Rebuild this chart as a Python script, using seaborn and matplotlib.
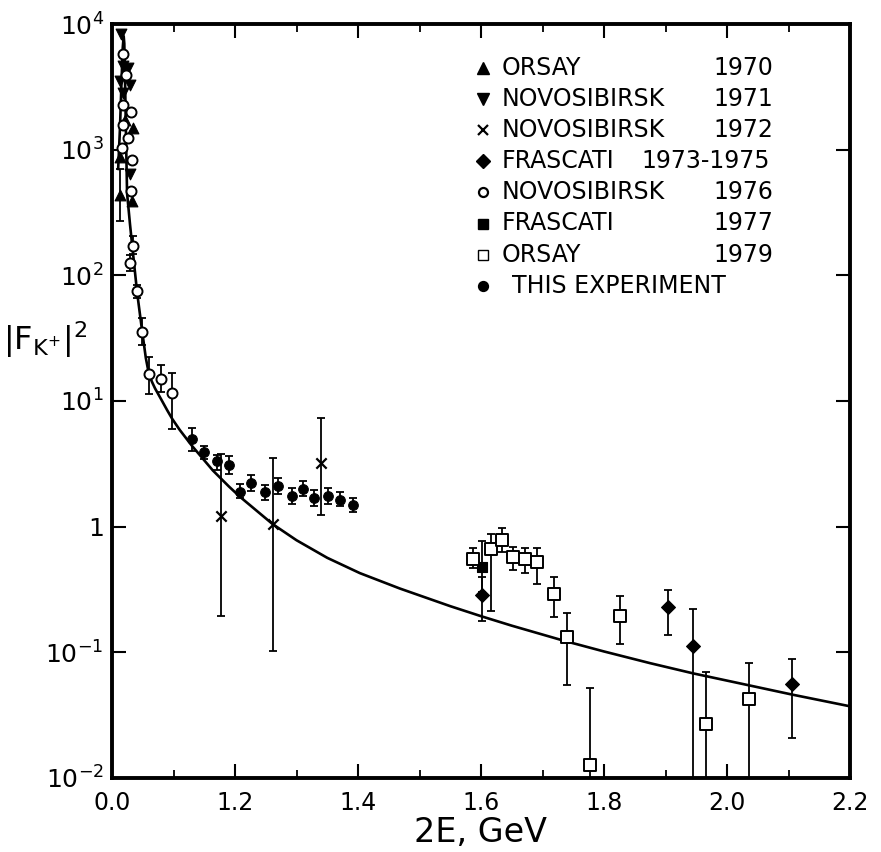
import numpy as np
import matplotlib
matplotlib.use("Agg")
import matplotlib.pyplot as plt
import seaborn as sns

# ---------------- data ----------------
# fitted curve
fit_x = [1.0100, 1.0130, 1.0155, 1.0175, 1.0190, 1.0200, 1.0215, 1.0230, 1.0245,
         1.0293, 1.0325, 1.0366, 1.0410, 1.0490, 1.0550, 1.0600, 1.0650, 1.0700,
         1.0800, 1.0900, 1.0980, 1.1100, 1.1300, 1.1640, 1.1900, 1.2080, 1.2610,
         1.3000, 1.3500, 1.4030, 1.4680, 1.5500, 1.6000, 1.6500, 1.7340, 1.8000,
         1.8750, 1.9450, 2.0360, 2.1060, 2.2000]
fit_y = [700, 1500, 3500, 6500, 8000, 7000, 3000, 1100, 450,
         254, 179, 115, 72, 36, 22, 16.4, 14.2, 12.6,
         10.3, 8.4, 7.2, 5.9, 4.4, 2.8, 2.09, 1.73, 1.05,
         0.78, 0.565, 0.427, 0.322, 0.233, 0.194, 0.163, 0.124, 0.1016,
         0.082, 0.068, 0.0546, 0.0461, 0.0372]

# ORSAY 1970 (up triangles)
ors70_x = [1.0207, 1.0341, 1.0125, 1.0125, 1.0325]
ors70_y = [1730, 1490, 871, 433, 392]
ors70_lo = [np.nan, np.nan, np.nan, 273, np.nan]
ors70_hi = [np.nan, np.nan, np.nan, 708, np.nan]

# NOVOSIBIRSK 1971 (down triangles)
nov71_x = [1.0151, 1.0179, 1.0260, 1.0125, 1.0288, 1.0179, 1.0288]
nov71_y = [8280, 4650, 4480, 3510, 3290, 2830, 641]

# NOVOSIBIRSK 1972 (crosses)
nov72_x = [1.177, 1.261, 1.340]
nov72_y = [1.21, 1.05, 3.23]
nov72_lo = [0.194, 0.103, 1.24]
nov72_hi = [3.77, 3.54, 7.31]

# FRASCATI 1973-1975 (diamonds)
fra73_x = [1.601, 1.9046, 1.945, 2.106]
fra73_y = [0.284, 0.229, 0.112, 0.0557]
fra73_lo = [0.179, 0.137, 0.001, 0.0208]
fra73_hi = [0.40, 0.311, 0.222, 0.088]

# NOVOSIBIRSK 1976 (open circles)
nov76_x = [1.0179, 1.0233, 1.0179, 1.0304, 1.0179, 1.0260, 1.0163, 1.0325, 1.0314,
           1.0341, 1.0288, 1.0400, 1.0493, 1.0602, 1.0797, 1.0980]
nov76_y = [5730, 3960, 2280, 2010, 1570, 1230, 1030, 820, 471,
           172, 126, 74.5, 35.6, 16.4, 14.9, 11.5]
nov76_lo = [np.nan] * 9 + [148, 108, 66, 27.8, 11.4, 11.7, 5.97]
nov76_hi = [np.nan] * 9 + [206, 145, 84, 45.5, 22.4, 19.2, 16.7]

# FRASCATI 1977 (filled squares)
fra77_x = [1.601]
fra77_y = [0.48]
fra77_lo = [0.30]
fra77_hi = [0.77]

# ORSAY 1979 (open squares)
ors79_x = [1.5875, 1.6158, 1.6337, 1.6525, 1.6715, 1.6906, 1.7187, 1.7403,
           1.826, 1.778, 1.966, 2.0358]
ors79_y = [0.552, 0.661, 0.783, 0.577, 0.552, 0.519, 0.293, 0.132,
           0.194, 0.0127, 0.0271, 0.0428]
ors79_lo = [0.465, 0.215, 0.63, 0.45, 0.43, 0.352, 0.19, 0.0546,
            0.116, 0.001, 0.001, 0.001]
ors79_hi = [0.673, 0.871, 0.97, 0.69, 0.673, 0.673, 0.40, 0.205,
            0.279, 0.052, 0.0698, 0.083]

# THIS EXPERIMENT (filled circles)
exp_x = [1.1296, 1.150, 1.170, 1.190, 1.208, 1.2255, 1.249, 1.2705, 1.292,
         1.311, 1.328, 1.352, 1.371, 1.392]
exp_y = [4.97, 3.94, 3.33, 3.10, 1.89, 2.22, 1.88, 2.12, 1.77,
         2.01, 1.69, 1.77, 1.64, 1.48]
exp_lo = [4.0, 3.43, 2.80, 2.64, 1.69, 1.91, 1.64, 1.82, 1.51,
          1.74, 1.45, 1.51, 1.45, 1.30]
exp_hi = [6.08, 4.39, 3.72, 3.65, 2.19, 2.57, 2.16, 2.45, 2.04,
          2.33, 1.96, 2.04, 1.88, 1.69]

x_ticks = [1.0, 1.2, 1.4, 1.6, 1.8, 2.0, 2.2]
x_ticklabels = ["0.0", "1.2", "1.4", "1.6", "1.8", "2.0", "2.2"]
x_minor = [1.1, 1.3, 1.5, 1.7, 1.9, 2.1]
y_ticks = [1e-2, 1e-1, 1, 1e1, 1e2, 1e3, 1e4]
y_ticklabels = [r"$10^{-2}$", r"$10^{-1}$", "1", r"$10^{1}$", r"$10^{2}$",
                r"$10^{3}$", r"$10^{4}$"]

legend_names = ["ORSAY", "NOVOSIBIRSK", "NOVOSIBIRSK", "FRASCATI", "NOVOSIBIRSK",
                "FRASCATI", "ORSAY", "THIS EXPERIMENT"]
legend_years = ["1970", "1971", "1972", "1973-1975", "1976", "1977", "1979", ""]

# ---------------- style ----------------
sns.set_theme(style="ticks")
plt.rcParams["font.family"] = ["DejaVu Sans"]
plt.rcParams["mathtext.default"] = "regular"

fig = plt.figure(figsize=(8.81, 8.52), dpi=100)
ax = fig.add_axes([112 / 881, 1 - 778 / 852, 738 / 881, 754 / 852])
ax.set_facecolor("white")
fig.patch.set_facecolor("white")

ax.set_yscale("log")

# curve
sns.lineplot(x=fit_x, y=fit_y, color="black", linewidth=1.9, ax=ax,
             sort=False, zorder=2)


def ebars(x, y, lo, hi):
    x = np.asarray(x, float)
    y = np.asarray(y, float)
    lo = np.asarray(lo, float)
    hi = np.asarray(hi, float)
    m = ~np.isnan(lo)
    if m.any():
        ax.errorbar(x[m], y[m], yerr=[y[m] - lo[m], hi[m] - y[m]], fmt="none",
                    ecolor="black", elinewidth=1.3, capsize=2.6, capthick=1.3,
                    zorder=3)


ebars(ors70_x, ors70_y, ors70_lo, ors70_hi)
ebars(nov72_x, nov72_y, nov72_lo, nov72_hi)
ebars(fra73_x, fra73_y, fra73_lo, fra73_hi)
ebars(nov76_x, nov76_y, nov76_lo, nov76_hi)
ebars(fra77_x, fra77_y, fra77_lo, fra77_hi)
ebars(ors79_x, ors79_y, ors79_lo, ors79_hi)
ebars(exp_x, exp_y, exp_lo, exp_hi)

kw = dict(ax=ax, zorder=4, legend=False)
sns.scatterplot(x=ors70_x, y=ors70_y, marker="^", s=60, color="black",
                edgecolor="black", linewidth=0.8, **kw)
sns.scatterplot(x=nov71_x, y=nov71_y, marker="v", s=60, color="black",
                edgecolor="black", linewidth=0.8, **kw)
sns.scatterplot(x=nov72_x, y=nov72_y, marker="x", s=55, color="black",
                linewidth=1.6, **kw)
sns.scatterplot(x=fra73_x, y=fra73_y, marker="D", s=50, color="black",
                edgecolor="black", linewidth=0.8, **kw)
sns.scatterplot(x=nov76_x, y=nov76_y, marker="o", s=52, color="white",
                edgecolor="black", linewidth=1.4, **kw)
sns.scatterplot(x=fra77_x, y=fra77_y, marker="s", s=60, color="black",
                edgecolor="black", linewidth=0.8, **kw)
sns.scatterplot(x=ors79_x, y=ors79_y, marker="s", s=66, color="white",
                edgecolor="black", linewidth=1.4, **kw)
sns.scatterplot(x=exp_x, y=exp_y, marker="o", s=48, color="black",
                edgecolor="black", linewidth=0.8, **kw)

# axes limits and ticks
ax.set_xlim(1.0, 2.2)
ax.set_ylim(1e-2, 1e4)
ax.set_xticks(x_ticks)
ax.set_xticklabels(x_ticklabels)
ax.set_xticks(x_minor, minor=True)
ax.set_yticks(y_ticks)
ax.set_yticklabels(y_ticklabels)
ax.yaxis.set_minor_locator(matplotlib.ticker.NullLocator())

ax.tick_params(axis="both", which="major", direction="in", top=True, right=True,
               length=10, width=1.5, colors="black", labelsize=17)
ax.tick_params(axis="both", which="minor", direction="in", top=True, right=True,
               length=5.5, width=1.3, colors="black")
ax.tick_params(axis="x", which="major", pad=9)
ax.tick_params(axis="y", which="major", pad=6, labelsize=18)

for sp in ax.spines.values():
    sp.set_linewidth(2.8)
    sp.set_color("black")
    sp.set_visible(True)

ax.set_xlabel("2E, GeV", fontsize=24, color="black", va="center")
ax.xaxis.set_label_coords(0.5, -0.072)
ax.set_ylabel(r"$|F_{K^{+}}|^{2}$", fontsize=23, rotation=0, color="black",
              ha="center", va="center")
ax.yaxis.set_label_coords(-0.091, 0.581)

# legend (drawn by hand to keep the year column)
leg_markers = [("^", "black", "black"), ("v", "black", "black"),
               ("x", "black", "black"), ("D", "black", "black"),
               ("o", "white", "black"), ("s", "black", "black"),
               ("s", "white", "black"), ("o", "black", "black")]
leg_sizes = [8, 8, 7.5, 7, 6.5, 7.5, 7.5, 6.5]
for i, ((mk, fc, ec), name, year) in enumerate(zip(leg_markers, legend_names,
                                                   legend_years)):
    yy = 1 - (68 + 31.1 * i - 24) / 754
    ax.plot([0.503], [yy], marker=mk, ms=leg_sizes[i], mfc=fc, mec=ec,
            mew=1.6 if mk in ("x", "o") else 1.0, color="black",
            transform=ax.transAxes, clip_on=False, zorder=5, linestyle="none")
    tx = 0.5416 if name == "THIS EXPERIMENT" else 0.528
    ax.text(tx, yy, name, transform=ax.transAxes, fontsize=17, ha="left",
            va="center", color="black")
    if year == "1973-1975":
        ax.text(0.8916, yy, year, transform=ax.transAxes, fontsize=17,
                ha="right", va="center", color="black")
    elif year:
        ax.text(0.8144, yy, year, transform=ax.transAxes, fontsize=17,
                ha="left", va="center", color="black")

fig.savefig("out.png", dpi=100, facecolor="white")
